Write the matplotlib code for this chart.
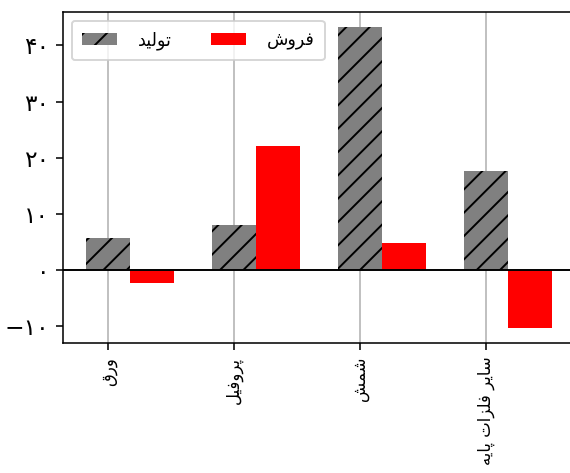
import matplotlib
matplotlib.use('Agg')
import matplotlib.pyplot as plt
import numpy as np

# Persian text is written in visual order with presentation forms,
# since matplotlib does not shape Arabic script itself
categories = ['\uFED5\uFEAD\uFEED',                      # ورق
              '\uFEDE\uFBFF\uFED3\uFEED\uFEAE\uFB58',    # پروفیل
              '\uFEB6\uFEE4\uFEB7',                      # شمش
              '\uFEEA\uFBFE\uFE8E\uFB58 \uFE95\uFE8D\uFEB0\uFEE0\uFED3 \uFEAE\uFBFE\uFE8E\uFEB3']  # سایر فلزات پایه
label_production = '\uFEAA\uFBFF\uFEDF\uFEEE\uFE97'      # تولید
label_sales = '\uFEB5\uFEED\uFEAE\uFED3'                 # فروش

production = [5.6, 7.9, 43.3, 17.6]
sales = [-2.4, 22.1, 4.7, -10.4]

yticks = [-10, 0, 10, 20, 30, 40]
ytick_labels = ['\u2212\u06F1\u06F0', '\u06F0', '\u06F1\u06F0', '\u06F2\u06F0',
                '\u06F3\u06F0', '\u06F4\u06F0']

plt.rcParams['font.family'] = ['DejaVu Sans']

fig = plt.figure(figsize=(570 / 140, 473 / 140), dpi=140)
ax = fig.add_axes([0.1105, 0.2748, 0.899, 0.70])

x = np.arange(len(categories))
width = 0.35
ax.bar(x, production, width, color='gray', hatch='//', label=label_production, zorder=2)
ax.bar(x + width, sales, width, color='red', label=label_sales, zorder=2)
ax.axhline(0, color='black', linewidth=1, zorder=3)

ax.set_xticks(x)
ax.set_xticklabels(categories, rotation=90, fontsize=8.5)
ax.set_yticks(yticks)
ax.set_yticklabels(ytick_labels, fontsize=12)
ax.grid(axis='x', zorder=0)
ax.set_axisbelow(True)

ax.legend(loc='upper left', ncol=2, fontsize=9, handletextpad=1.2,
          columnspacing=2.2, borderpad=0.6)

fig.savefig('out.png', dpi=140)
